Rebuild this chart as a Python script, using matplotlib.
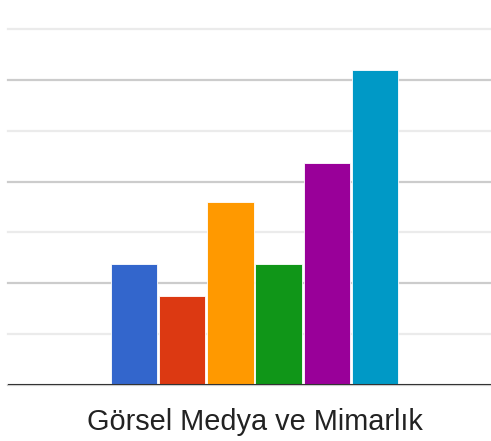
import numpy as np
import matplotlib.pyplot as plt

category = "Görsel Medya ve Mimarlık"
values = [2.38, 1.75, 3.6, 2.38, 4.37, 6.2]
colors = ['#3366CC', '#DC3912', '#FF9900', '#109618', '#990099', '#0099C6']

W, H = 491, 441
fig = plt.figure(figsize=(W / 100, H / 100), dpi=100)
ax = fig.add_axes([8 / W, 1 - 385 / H, (491 - 8) / W, (385 - 29) / H])

n = len(values)
offsets = np.arange(n) - (n - 1) / 2
ax.bar(offsets, values, width=0.96, color=colors, edgecolor='white', linewidth=0.6, zorder=3)

ax.set_ylim(0, 7)
ax.set_xlim(-5.124, 4.916)
ax.set_yticks([0, 2, 4, 6])
ax.set_yticks([1, 3, 5, 7], minor=True)
ax.grid(axis='y', which='major', color='#cccccc', linewidth=1.6, zorder=0)
ax.grid(axis='y', which='minor', color='#ebebeb', linewidth=1.6, zorder=0)
for t in ax.yaxis.get_major_ticks() + ax.yaxis.get_minor_ticks():
    t.gridline.set_clip_on(False)
ax.tick_params(axis='y', which='both', length=0, labelleft=False)
ax.axhline(0, color='#333333', linewidth=2.2, zorder=4)

ax.set_xticks([0])
ax.set_xticklabels([category], fontsize=20.8, color='#222222', family='Liberation Sans')
ax.tick_params(axis='x', length=0, pad=16.5)

for s in ax.spines.values():
    s.set_visible(False)

fig.savefig('out.png', dpi=100)
